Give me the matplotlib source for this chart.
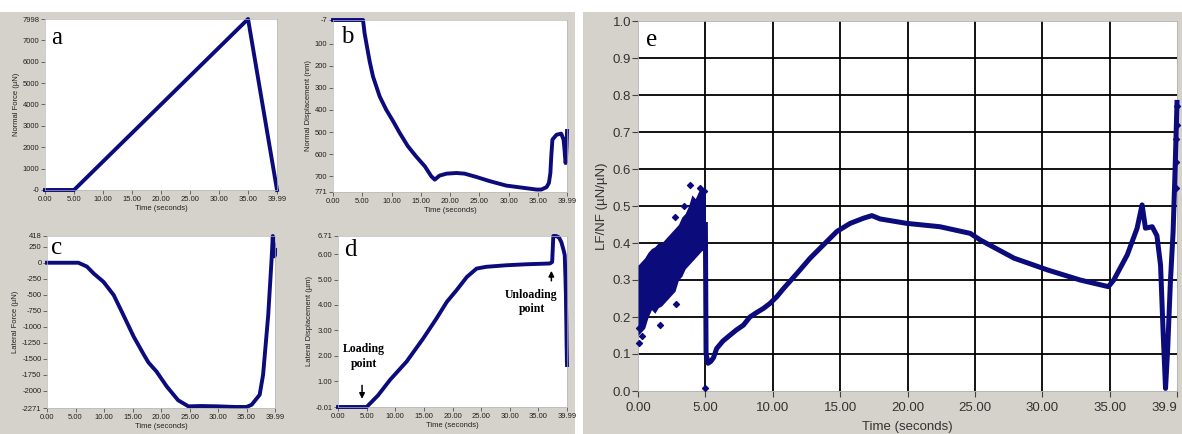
import numpy as np
import matplotlib
matplotlib.use('Agg')
import matplotlib.pyplot as plt
from matplotlib.patches import Rectangle

# ---- data ----
time_ticks = [0, 5, 10, 15, 20, 25, 30, 35, 39.99]
time_labels = ['0.00', '5.00', '10.00', '15.00', '20.00', '25.00', '30.00', '35.00', '39.99']

# a: normal force (uN)
t_a = [0, 5.0, 35.0, 39.99]
nf_a = [0, 0, 7998, 0]
yt_a = [0, 1000, 2000, 3000, 4000, 5000, 6000, 7000, 7998]
yl_a = ['-0', '1000', '2000', '3000', '4000', '5000', '6000', '7000', '7998']

# b: normal displacement (nm)
t_b = [0, 5.13, 5.4, 5.7, 6.27, 6.84, 7.98, 9.1, 10.3, 11.4, 12.8, 14.2, 15.7, 16.8, 17.4,
       18.2, 19.4, 21.1, 22.5, 24.5, 26.8, 29.6, 32.5, 34.8, 35.6, 36.5, 36.9, 37.15, 37.3,
       37.5, 38.2, 39.0, 39.4, 39.5, 39.6, 39.65, 39.7, 39.75, 39.8, 39.85, 39.9, 39.95, 39.99]
nd_b = [-7, -7, 53, 98, 181, 249, 339, 399, 452, 504, 564, 610, 655, 700, 715,
        697, 688, 685, 688, 703, 722, 742, 752, 760, 760, 749, 730, 685, 610,
        534, 512, 507, 534, 560, 590, 610, 625, 640, 630, 600, 570, 530, 495]
yt_b = [-7, 100, 200, 300, 400, 500, 600, 700, 771]
yl_b = ['-7', '100', '200', '300', '400', '500', '600', '700', '771']

# c: lateral force (uN)
t_c = [0, 5.5, 7.0, 8.2, 9.9, 11.7, 13.4, 15.2, 17.0, 17.8, 19.2, 21.0, 23.0, 24.8, 27.0,
       30.0, 33.0, 35.0, 35.9, 37.3, 37.9, 38.8, 39.4, 39.6, 39.7, 39.8, 39.9, 39.99]
lf_c = [0, 0, -60, -169, -298, -506, -818, -1155, -1440, -1560, -1700, -1934, -2150, -2245, -2240,
        -2245, -2255, -2255, -2220, -2064, -1752, -818, 65, 418, 150, 300, 100, 200]
yt_c = [-2271, -2000, -1750, -1500, -1250, -1000, -750, -500, -250, 0, 250, 418]
yl_c = ['-2271', '-2000', '-1750', '-1500', '-1250', '-1000', '-750', '-500', '-250', '0', '250', '418']

# d: lateral displacement (um)
t_d = [0, 5.0, 7.0, 9.1, 12.0, 14.9, 17.2, 19.0, 20.7, 22.5, 24.2, 25.9, 29.4, 33.0, 37.0,
       37.4, 37.6, 38.1, 38.6, 39.0, 39.4, 39.6, 39.65, 39.7, 39.72, 39.75, 39.8, 39.82,
       39.85, 39.88, 39.9, 39.92, 39.95, 39.97, 39.99]
ld_d = [-0.01, -0.01, 0.45, 1.06, 1.78, 2.69, 3.47, 4.12, 4.58, 5.10, 5.43, 5.50, 5.56, 5.60, 5.63,
        5.69, 6.71, 6.71, 6.65, 6.47, 6.15, 5.95, 5.55, 5.2, 5.1, 4.8, 4.4, 4.0,
        3.6, 3.2, 2.8, 2.4, 2.1, 1.8, 1.64]
yt_d = [-0.01, 1, 2, 3, 4, 5, 6, 6.71]
yl_d = ['-0.01', '1.00', '2.00', '3.00', '4.00', '5.00', '6.00', '6.71']

# e: friction coefficient LF/NF
t_cloud = [0, 0.25, 0.5, 0.75, 1.0, 1.25, 1.5, 1.75, 2.0, 2.25, 2.5, 2.75, 3.0, 3.25, 3.5,
           3.75, 4.0, 4.25, 4.5, 4.75, 5.0]
cloud_low = [0.15, 0.16, 0.17, 0.20, 0.22, 0.21, 0.225, 0.23, 0.24, 0.25, 0.26, 0.27, 0.30,
             0.31, 0.33, 0.34, 0.35, 0.36, 0.37, 0.38, 0.38]
cloud_high = [0.34, 0.35, 0.36, 0.375, 0.385, 0.39, 0.40, 0.40, 0.41, 0.42, 0.43, 0.44, 0.45,
              0.47, 0.48, 0.50, 0.53, 0.52, 0.54, 0.55, 0.55]
t_out = [0.05, 0.1, 0.3, 1.63, 2.8, 3.86, 3.4, 2.75, 4.6, 4.9, 4.98, 39.9, 39.92, 39.95, 39.97, 39.99]
mu_out = [0.13, 0.17, 0.15, 0.178, 0.234, 0.557, 0.50, 0.47, 0.55, 0.54, 0.007, 0.55, 0.62, 0.68, 0.72, 0.77]
t_e = [5.0, 5.05, 5.2, 5.4, 5.6, 5.84, 6.3, 6.83, 7.3, 7.82, 8.3, 8.8, 9.3, 9.8, 10.3, 10.8,
       11.8, 12.77, 13.76, 14.75, 15.74, 16.73, 17.35, 17.97, 19.95, 22.4, 24.65, 25.4, 27.9,
       30.4, 32.8, 34.9, 35.3, 36.3, 37.03, 37.4, 37.65, 38.15, 38.5, 38.77, 38.96, 39.14,
       39.3, 39.5, 39.7, 39.85, 39.99]
mu_e = [0.45, 0.10, 0.075, 0.08, 0.09, 0.115, 0.135, 0.151, 0.165, 0.178, 0.20, 0.212, 0.223,
        0.237, 0.255, 0.277, 0.318, 0.359, 0.395, 0.431, 0.453, 0.467, 0.474, 0.465, 0.453,
        0.444, 0.426, 0.408, 0.359, 0.327, 0.30, 0.282, 0.30, 0.368, 0.44, 0.503, 0.44, 0.444,
        0.42, 0.34, 0.16, 0.007, 0.115, 0.295, 0.43, 0.6, 0.78]
yt_e = [0.0, 0.1, 0.2, 0.3, 0.4, 0.5, 0.6, 0.7, 0.8, 0.9, 1.0]

NAVY = '#0b0b7c'
GREY = '#d5d2cb'
W, H = 1182, 434
SANS = 'Liberation Sans'
SERIF = 'Liberation Serif'


def box(l, t, r, b):  # pixel box -> figure fraction
    return [l / W, 1 - b / H, (r - l) / W, (b - t) / H]


def small_panel(ax, x, y, yticks, ylabels, ylabel, invert=False):
    ax.plot(x, y, color=NAVY, lw=2.8, clip_on=False, solid_joinstyle='round')
    ax.set_xlim(0, 39.99)
    ax.set_ylim(min(yticks), max(yticks))
    if invert:
        ax.invert_yaxis()
    ax.set_xticks(time_ticks)
    ax.set_xticklabels(time_labels)
    ax.set_yticks(yticks)
    ax.set_yticklabels(ylabels)
    ax.tick_params(labelsize=5.5, length=3, width=0.6, color='#555555', labelcolor='#222222', pad=1)
    for lab in ax.get_xticklabels() + ax.get_yticklabels():
        lab.set_family(SANS)
    ax.set_xlabel('Time (seconds)', fontsize=5.5, family=SANS, color='#222222', labelpad=2)
    ax.set_ylabel(ylabel, fontsize=5.5, family=SANS, color='#222222', labelpad=2)
    for s in ax.spines.values():
        s.set_color('#b8b8b8')
        s.set_linewidth(0.5)


fig = plt.figure(figsize=(11.82, 4.34), dpi=100)
fig.patch.set_facecolor('white')
fig.add_artist(Rectangle((0, 0), 575 / W, 1 - 12 / H, transform=fig.transFigure,
                         facecolor=GREY, edgecolor='none', zorder=-10))
fig.add_artist(Rectangle((583 / W, 0), 1 - 583 / W, 1 - 12 / H, transform=fig.transFigure,
                         facecolor=GREY, edgecolor='none', zorder=-10))

ax_a = fig.add_axes(box(45, 19, 277, 190))
small_panel(ax_a, t_a, nf_a, yt_a, yl_a, 'Normal Force (µN)')

ax_b = fig.add_axes(box(333, 20, 567, 192))
small_panel(ax_b, t_b, nd_b, yt_b, yl_b, 'Normal Displacement (nm)', invert=True)

ax_c = fig.add_axes(box(47, 236, 275, 408))
small_panel(ax_c, t_c, lf_c, yt_c, yl_c, 'Lateral Force (µN)')

ax_d = fig.add_axes(box(338, 236, 567, 407))
small_panel(ax_d, t_d, ld_d, yt_d, yl_d, 'Lateral Displacement (µm)')
ax_d.text(4.5, 1.97, 'Loading\npoint', ha='center', va='center', family=SERIF,
          fontweight='bold', fontsize=8.5, linespacing=1.3)
ax_d.annotate('', xy=(4.2, 0.2), xytext=(4.2, 0.95),
              arrowprops=dict(arrowstyle='-|>', color='black', lw=1.1, mutation_scale=8))
ax_d.text(33.8, 4.12, 'Unloading\npoint', ha='center', va='center', family=SERIF,
          fontweight='bold', fontsize=8.5, linespacing=1.3)
ax_d.annotate('', xy=(37.26, 5.45), xytext=(37.26, 4.84),
              arrowprops=dict(arrowstyle='-|>', color='black', lw=1.1, mutation_scale=8))

# e: big panel with grid
ax_e = fig.add_axes(box(638, 21, 1177, 391))
ax_e.fill_between(t_cloud, cloud_low, cloud_high, color=NAVY, lw=0, zorder=3)
ax_e.plot(t_e, mu_e, color=NAVY, lw=3.6, zorder=3, solid_joinstyle='round', clip_on=False)
ax_e.scatter(t_out, mu_out, s=9, marker='D', color=NAVY, zorder=3, clip_on=False)
ax_e.set_xlim(0, 39.99)
ax_e.set_ylim(0, 1.0)
ax_e.set_xticks(time_ticks)
ax_e.set_xticklabels(time_labels[:-1] + ['39.9'])
ax_e.set_yticks(yt_e)
ax_e.set_yticklabels(['%.1f' % v for v in yt_e])
for v in yt_e[1:-1]:
    ax_e.axhline(v, color='black', lw=1.3, zorder=1)
for v in time_ticks[1:-1]:
    ax_e.axvline(v, color='black', lw=1.3, zorder=1)
ax_e.tick_params(labelsize=9.5, length=4, width=0.8, color='#444444', labelcolor='#333333', pad=4)
ax_e.tick_params(axis='y', pad=1)
for lab in ax_e.get_xticklabels() + ax_e.get_yticklabels():
    lab.set_family(SANS)
ax_e.get_xticklabels()[-1].set_horizontalalignment('right')  # last label sits at the right edge
ax_e.set_xlabel('Time (seconds)', fontsize=9.5, family=SANS, color='#333333', labelpad=5)
ax_e.set_ylabel('LF/NF (µN/µN)', fontsize=9.5, family=SANS, color='#333333', labelpad=3)
for s in ax_e.spines.values():
    s.set_color('#b0b0b0')
    s.set_linewidth(0.6)

# panel letters
for letter, (px, py) in zip('abcde', [(57, 38), (347, 37), (57, 248), (350, 250), (652, 40)]):
    fig.text(px / W, 1 - py / H, letter, ha='center', va='center', family=SERIF, fontsize=18)

fig.savefig('out.png', dpi=100)
